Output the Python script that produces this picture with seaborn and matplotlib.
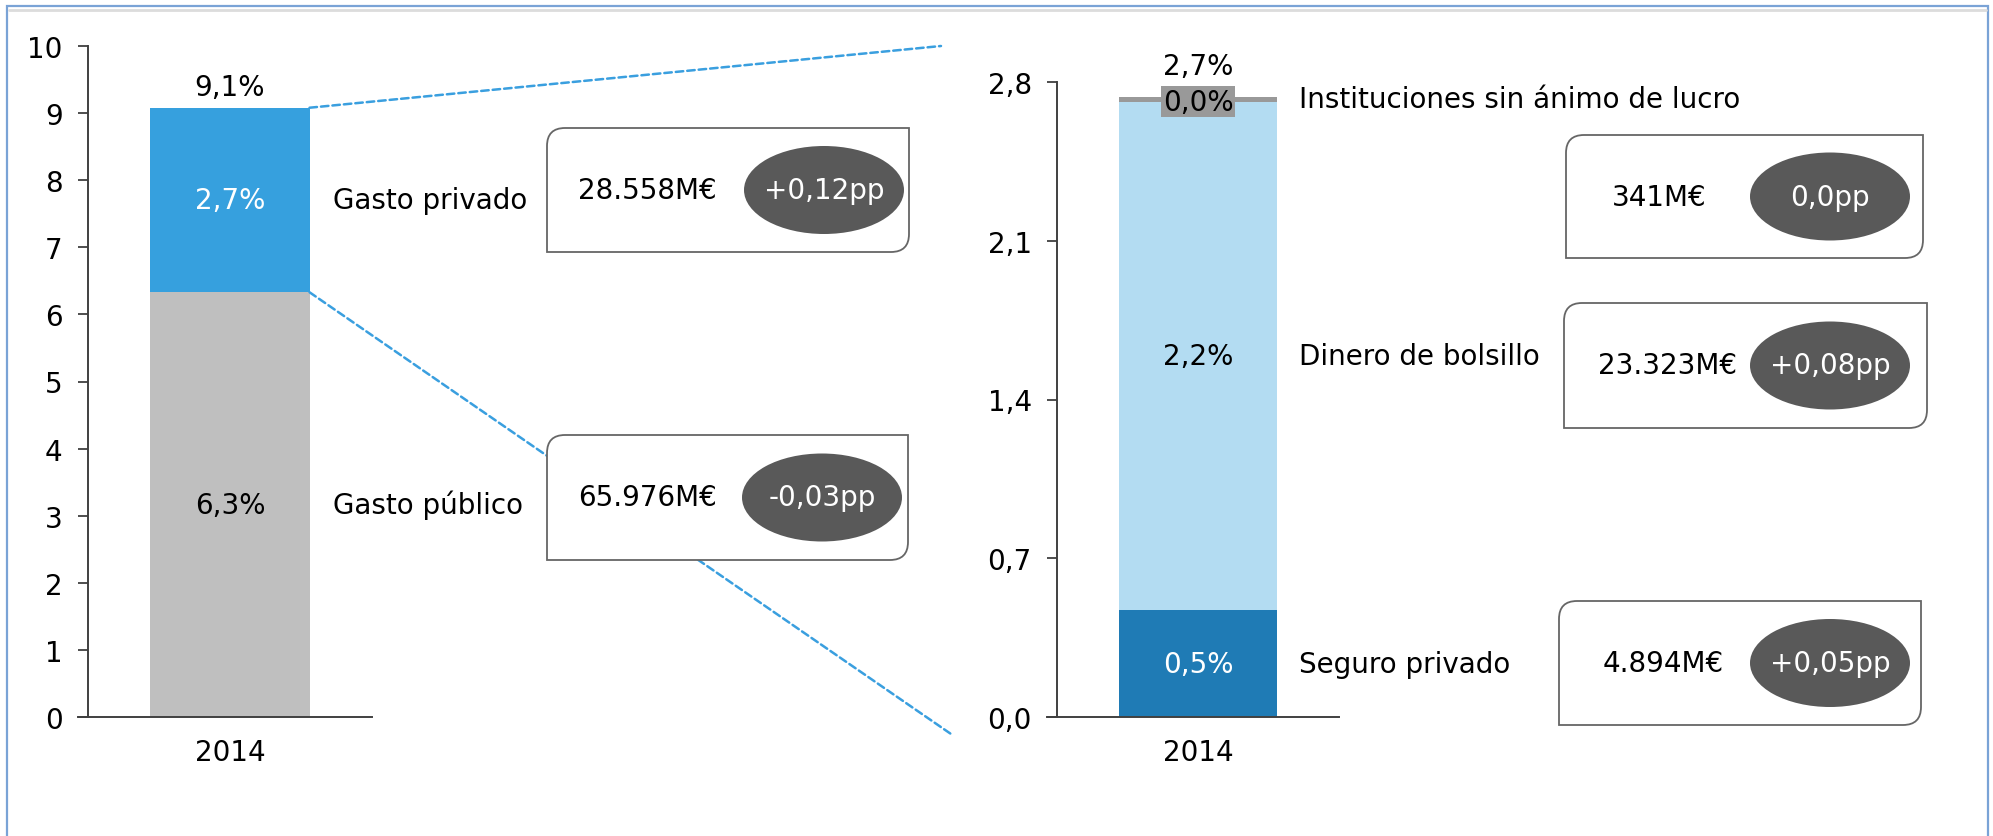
import matplotlib
matplotlib.use("Agg")
import matplotlib.pyplot as plt
import matplotlib.transforms as mtrans
import seaborn as sns
import numpy as np
from matplotlib.patches import Ellipse, PathPatch, ConnectionPatch, Rectangle
from matplotlib.path import Path
from matplotlib.lines import Line2D
from matplotlib.ticker import FixedLocator, FixedFormatter

# --- data -------------------------------------------------------------
year = ["2014"]

gasto_labels = ["Gasto público", "Gasto privado"]
gasto_values = [6.33, 2.75]
gasto_pct = ["6,3%", "2,7%"]
gasto_total = "9,1%"
gasto_mill = ["65.976M€", "28.558M€"]
gasto_pp = ["-0,03pp", "+0,12pp"]

priv_labels = ["Seguro privado", "Dinero de bolsillo", "Instituciones sin ánimo de lucro"]
priv_values = [0.47, 2.24, 0.025]
priv_pct = ["0,5%", "2,2%", "0,0%"]
priv_total = "2,7%"
priv_mill = ["4.894M€", "23.323M€", "341M€"]
priv_pp = ["+0,05pp", "+0,08pp", "0,0pp"]

left_ticks = list(range(0, 11))
left_ticklabels = [str(t) for t in left_ticks]
right_ticks = [0.0, 0.7, 1.4, 2.1, 2.8]
right_ticklabels = ["0,0", "0,7", "1,4", "2,1", "2,8"]

# --- style ------------------------------------------------------------
sns.set_style("white")
plt.rcParams["font.family"] = ["DejaVu Sans"]
plt.rcParams["text.color"] = "black"
plt.rcParams["xtick.color"] = "black"
plt.rcParams["ytick.color"] = "black"
FS = 20

gasto_colors = ["#bfbfbf", "#36a0de"]
gasto_text = ["black", "white"]
priv_colors = ["#1f7bb5", "#b3dcf2", "#999999"]
priv_text = ["white", "black", "black"]

W, H = 1993, 837
fig = plt.figure(figsize=(W / 100, H / 100), dpi=100)
pix = mtrans.Affine2D().scale(1 / W, 1 / H) + fig.transFigure

ax1 = fig.add_axes([88 / W, 1 - 718 / H, 284 / W, 671 / H])
ax2 = fig.add_axes([1057 / W, 1 - 718 / H, 282 / W, 635 / H])

BAR_W = 0.56


def stacked(ax, values, colors, pcts, txt_colors):
    cum = np.cumsum(values)
    for i in reversed(range(len(values))):
        sns.barplot(x=year, y=[cum[i]], color=colors[i], width=BAR_W,
                    saturation=1, ax=ax, linewidth=0)
    for i in range(len(values)):
        if values[i] > 0.1:
            ax.text(0, cum[i] - values[i] / 2, pcts[i], ha="center", va="center",
                    fontsize=FS, color=txt_colors[i])
    return cum


def style_axis(ax, ticks, labels, top):
    ax.set_ylim(0, top)
    ax.set_xlim(-0.5, 0.5)
    ax.yaxis.set_major_locator(FixedLocator(ticks))
    ax.yaxis.set_major_formatter(FixedFormatter(labels))
    sns.despine(ax=ax)
    for s in ["left", "bottom"]:
        ax.spines[s].set_color("#404040")
        ax.spines[s].set_linewidth(1.4)
    ax.tick_params(axis="y", length=7.2, width=1.3, color="#404040", pad=11,
                   labelsize=FS, labelcolor="black", left=True)
    ax.tick_params(axis="x", length=0, pad=15, labelsize=FS, labelcolor="black")
    ax.set_xlabel("")
    ax.set_ylabel("")


# left chart
cum1 = stacked(ax1, gasto_values, gasto_colors, gasto_pct, gasto_text)
style_axis(ax1, left_ticks, left_ticklabels, 10)
ax1.spines["bottom"].set_bounds(-0.5 - 10 / 284, 0.5)
ax1.annotate(gasto_total, (0, cum1[-1]), xytext=(0, 15), textcoords="offset points",
             ha="center", va="center", fontsize=FS)
bt1 = mtrans.blended_transform_factory(ax1.transAxes, ax1.transData)
for i, lab in enumerate(gasto_labels):
    ax1.text(0.863, cum1[i] - gasto_values[i] / 2, lab, transform=bt1,
             ha="left", va="center", fontsize=FS, clip_on=False)

# right chart
cum2 = stacked(ax2, priv_values, priv_colors, priv_pct, priv_text)
style_axis(ax2, right_ticks, right_ticklabels, 2.8)
ax2.spines["bottom"].set_bounds(-0.5 - 10 / 282, 0.5)
ax2.text(0, cum2[-1] - priv_values[-1] / 2 - 0.01, priv_pct[-1], ha="center", va="center",
         fontsize=FS, color="black",
         bbox=dict(boxstyle="square,pad=0.05", fc="#999999", ec="none"))
ax2.annotate(priv_total, (0, cum2[-1]), xytext=(0, 22), textcoords="offset points",
             ha="center", va="center", fontsize=FS)
bt2 = mtrans.blended_transform_factory(ax2.transAxes, ax2.transData)
label_y = [cum2[0] - priv_values[0] / 2, cum2[1] - priv_values[1] / 2, cum2[2] - 0.01]
for lab, y in zip(priv_labels, label_y):
    ax2.text(0.858, y, lab, transform=bt2, ha="left", va="center",
             fontsize=FS, clip_on=False)

# dashed zoom lines
dash = dict(color="#3a9fdf", linestyle=(0, (3, 1.6)), linewidth=1.8, zorder=3)
for yv, end in [(cum1[-1], (941, 47)), (cum1[0], (951, 735))]:
    con = ConnectionPatch(xyA=(BAR_W / 2, yv), coordsA=ax1.transData,
                          xyB=(end[0] / W, 1 - end[1] / H), coordsB=fig.transFigure,
                          arrowstyle="-", **dash)
    fig.add_artist(con)


# callout boxes (pixel coords, origin top-left)
def callout(x0, y0, x1, y1, mill, pp, tx, ex, r=18):
    L, R, T, B = x0, x1, H - y0, H - y1
    verts = [(L, B), (L, T - r), (L, T), (L + r, T), (R, T), (R, B + r), (R, B),
             (R - r, B), (L, B), (L, B)]
    codes = [Path.MOVETO, Path.LINETO, Path.CURVE3, Path.CURVE3, Path.LINETO,
             Path.LINETO, Path.CURVE3, Path.CURVE3, Path.LINETO, Path.CLOSEPOLY]
    fig.add_artist(PathPatch(Path(verts, codes), transform=pix, fc="white",
                             ec="#666666", lw=1.3, zorder=5))
    cy = (y0 + y1) / 2
    fig.add_artist(Ellipse((ex, H - cy), 160, 88, transform=pix, fc="#595959",
                           ec="none", zorder=6))
    fig.text(tx / W, 1 - cy / H, mill, ha="center", va="center", fontsize=FS,
             color="black", zorder=7)
    fig.text(ex / W, 1 - cy / H, pp, ha="center", va="center", fontsize=FS,
             color="white", zorder=7)


callout(547, 129, 909, 253, gasto_mill[1], gasto_pp[1], 647, 824)
callout(547, 436, 908, 561, gasto_mill[0], gasto_pp[0], 647, 822)
callout(1566, 136, 1923, 259, priv_mill[2], priv_pp[2], 1659, 1830)
callout(1564, 304, 1927, 429, priv_mill[1], priv_pp[1], 1668, 1830)
callout(1559, 602, 1921, 726, priv_mill[0], priv_pp[0], 1663, 1830)

# outer frame
fig.add_artist(Rectangle((7, -20), 1981, H - 7 + 20, transform=pix, fill=False,
                         ec="#7aa3d6", lw=1.6, zorder=8))
fig.add_artist(Line2D([9, 1986], [H - 11, H - 11], transform=pix, color="#dcdcdc",
                      lw=2, zorder=8))

fig.savefig("out.png", dpi=100)
